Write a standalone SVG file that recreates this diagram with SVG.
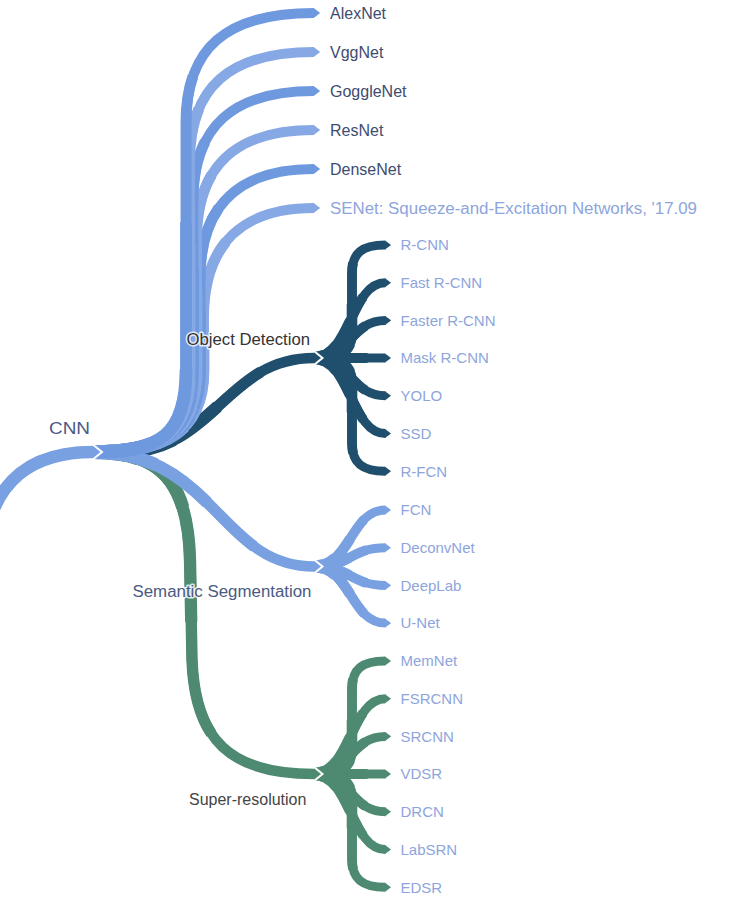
<svg xmlns="http://www.w3.org/2000/svg" width="756" height="902" viewBox="0 0 756 902">
<style>
use{fill:none;stroke-linecap:butt;stroke-linejoin:round}
.d3,.d2,.d1,.d0{marker-end:none !important}
.d3{stroke-dasharray:75 300}.d2{stroke-dasharray:50 300}.d1{stroke-dasharray:25 300}.d0{stroke-dasharray:10 300}
.T .a{stroke-width:10}.T .d3{stroke-width:10.9}.T .d2{stroke-width:11.8}.T .d1{stroke-width:12.7}.T .d0{stroke-width:13.6}
.M .a{stroke-width:10.5}.M .d3{stroke-width:11.4}.M .d2{stroke-width:12.3}.M .d1{stroke-width:13.2}.M .d0{stroke-width:14}
.F .a{stroke-width:9}.F .d3{stroke-width:9.8}.F .d2{stroke-width:10.6}.F .d1{stroke-width:11.4}.F .d0{stroke-width:12.2}
.blueA{stroke:#6f99df;marker-end:url(#tA)}
.blueB{stroke:#86a8e5;marker-end:url(#tB)}
.blue{stroke:#79a1e2;marker-end:url(#tS)}
.teal{stroke:#1f4f6d;marker-end:url(#tT)}
.green{stroke:#4e8a72;marker-end:url(#tG)}
.notch{fill:none;stroke:#fff;stroke-width:2;stroke-linejoin:miter}
text{font-family:"Liberation Sans",Arial,sans-serif}
.t1{font-size:16px;fill:#3e4c70}
.lf{font-size:15px;fill:#8ea5dc}
.lf16{font-size:16px;fill:#8ea5dc}
.cat{font-size:16px;stroke:#fff;stroke-width:3;stroke-opacity:0.8;paint-order:stroke;stroke-linejoin:round}
</style>
<defs>
<marker id="tA" viewBox="-0.05 -0.5 0.7 1" markerWidth="0.7" markerHeight="1" refX="0" refY="0" orient="auto" markerUnits="strokeWidth"><path d="M-0.05,-0.5 L0.62,0 L-0.05,0.5 Z" fill="#6f99df"/></marker>
<marker id="tB" viewBox="-0.05 -0.5 0.7 1" markerWidth="0.7" markerHeight="1" refX="0" refY="0" orient="auto" markerUnits="strokeWidth"><path d="M-0.05,-0.5 L0.62,0 L-0.05,0.5 Z" fill="#86a8e5"/></marker>
<marker id="tS" viewBox="-0.05 -0.5 0.7 1" markerWidth="0.7" markerHeight="1" refX="0" refY="0" orient="auto" markerUnits="strokeWidth"><path d="M-0.05,-0.5 L0.62,0 L-0.05,0.5 Z" fill="#79a1e2"/></marker>
<marker id="tT" viewBox="-0.05 -0.5 0.7 1" markerWidth="0.7" markerHeight="1" refX="0" refY="0" orient="auto" markerUnits="strokeWidth"><path d="M-0.05,-0.5 L0.62,0 L-0.05,0.5 Z" fill="#1f4f6d"/></marker>
<marker id="tG" viewBox="-0.05 -0.5 0.7 1" markerWidth="0.7" markerHeight="1" refX="0" refY="0" orient="auto" markerUnits="strokeWidth"><path d="M-0.05,-0.5 L0.62,0 L-0.05,0.5 Z" fill="#4e8a72"/></marker>
<path id="pOD" pathLength="100" d="M120 452 C215 452 225 358 314 358"/>
<path id="pSR" pathLength="100" d="M93 452 C160 452 188 480 190 560 L192 660 C195 740 230 774 314 774"/>
<path id="pSS" pathLength="100" d="M93 452 C215 452 220 566.5 314 566.5"/>
<path id="p6" pathLength="100" d="M93 452 C160 452 203.5 435 203.5 370 L203.5 318 C203.5 243 243.5 208 314 208"/>
<path id="p5" pathLength="100" d="M93 452 C160 452 200 435 200 370 L200 279 C200 204 240 169 314 169"/>
<path id="p4" pathLength="100" d="M93 452 C160 452 196.5 435 196.5 370 L196.5 240 C196.5 165 236.5 130 314 130"/>
<path id="p3" pathLength="100" d="M93 452 C160 452 193 435 193 370 L193 201 C193 126 233 91 314 91"/>
<path id="p2" pathLength="100" d="M93 452 C160 452 189.5 435 189.5 370 L189.5 162 C189.5 87 229.5 52 314 52"/>
<path id="p1" pathLength="100" d="M93 452 C160 452 186 435 186 370 L186 123 C186 48 226 13 314 13"/>
<path id="od1" pathLength="100" d="M314 358 C340 358 352 352 352 330 L352 273 C352 253 362 245 385.5 245"/>
<path id="od2" pathLength="100" d="M314 358 C351 358 350.5 282.7 385.5 282.7"/>
<path id="od3" pathLength="100" d="M314 358 C351 358 350.5 320.4 385.5 320.4"/>
<path id="od4" pathLength="100" d="M314 358 L385.5 358"/>
<path id="od5" pathLength="100" d="M314 358 C351 358 350.5 395.8 385.5 395.8"/>
<path id="od6" pathLength="100" d="M314 358 C351 358 350.5 433.5 385.5 433.5"/>
<path id="od7" pathLength="100" d="M314 358 C340 358 352 364 352 386 L352 443 C352 463 362 471.2 385.5 471.2"/>
<path id="ss1" pathLength="100" d="M314 566.5 C351 566.5 350.5 510 385.5 510"/>
<path id="ss2" pathLength="100" d="M314 566.5 C351 566.5 350.5 547.7 385.5 547.7"/>
<path id="ss3" pathLength="100" d="M314 566.5 C351 566.5 350.5 585.4 385.5 585.4"/>
<path id="ss4" pathLength="100" d="M314 566.5 C351 566.5 350.5 623.1 385.5 623.1"/>
<path id="sr1" pathLength="100" d="M314 774 C340 774 352 768 352 746 L352 689 C352 669 362 661 385.5 661"/>
<path id="sr2" pathLength="100" d="M314 774 C351 774 350.5 698.7 385.5 698.7"/>
<path id="sr3" pathLength="100" d="M314 774 C351 774 350.5 736.4 385.5 736.4"/>
<path id="sr4" pathLength="100" d="M314 774 L385.5 774"/>
<path id="sr5" pathLength="100" d="M314 774 C351 774 350.5 811.8 385.5 811.8"/>
<path id="sr6" pathLength="100" d="M314 774 C351 774 350.5 849.5 385.5 849.5"/>
<path id="sr7" pathLength="100" d="M314 774 C340 774 352 780 352 802 L352 859 C352 879 362 887.2 385.5 887.2"/>
</defs>
<rect width="756" height="902" fill="#fff"/>
<g id="connectors">
<g class="M teal"><use href="#pOD" class="a"/><use href="#pOD" class="d3"/><use href="#pOD" class="d2"/><use href="#pOD" class="d1"/><use href="#pOD" class="d0"/></g>
<g class="M green"><use href="#pSR" class="a"/><use href="#pSR" class="d3"/><use href="#pSR" class="d2"/><use href="#pSR" class="d1"/><use href="#pSR" class="d0"/></g>
<g class="M blue"><use href="#pSS" class="a"/><use href="#pSS" class="d3"/><use href="#pSS" class="d2"/><use href="#pSS" class="d1"/><use href="#pSS" class="d0"/></g>
<g class="T blueB"><use href="#p6" class="a"/><use href="#p6" class="d3"/><use href="#p6" class="d2"/><use href="#p6" class="d1"/><use href="#p6" class="d0"/></g>
<g class="T blueA"><use href="#p5" class="a"/><use href="#p5" class="d3"/><use href="#p5" class="d2"/><use href="#p5" class="d1"/><use href="#p5" class="d0"/></g>
<g class="T blueB"><use href="#p4" class="a"/><use href="#p4" class="d3"/><use href="#p4" class="d2"/><use href="#p4" class="d1"/><use href="#p4" class="d0"/></g>
<g class="T blueA"><use href="#p3" class="a"/><use href="#p3" class="d3"/><use href="#p3" class="d2"/><use href="#p3" class="d1"/><use href="#p3" class="d0"/></g>
<g class="T blueB"><use href="#p2" class="a"/><use href="#p2" class="d3"/><use href="#p2" class="d2"/><use href="#p2" class="d1"/><use href="#p2" class="d0"/></g>
<g class="T blueA"><use href="#p1" class="a"/><use href="#p1" class="d3"/><use href="#p1" class="d2"/><use href="#p1" class="d1"/><use href="#p1" class="d0"/></g>
<path fill="none" stroke="#79a1e2" stroke-width="12.5" d="M-15 540 C-5 482 30 452 93 452" marker-end="url(#tS)"/>
<g class="F teal">
<use href="#od1" class="a"/><use href="#od1" class="d3"/><use href="#od1" class="d2"/><use href="#od1" class="d1"/><use href="#od1" class="d0"/>
<use href="#od2" class="a"/><use href="#od2" class="d3"/><use href="#od2" class="d2"/><use href="#od2" class="d1"/><use href="#od2" class="d0"/>
<use href="#od3" class="a"/><use href="#od3" class="d3"/><use href="#od3" class="d2"/><use href="#od3" class="d1"/><use href="#od3" class="d0"/>
<use href="#od4" class="a"/><use href="#od4" class="d3"/><use href="#od4" class="d2"/><use href="#od4" class="d1"/><use href="#od4" class="d0"/>
<use href="#od5" class="a"/><use href="#od5" class="d3"/><use href="#od5" class="d2"/><use href="#od5" class="d1"/><use href="#od5" class="d0"/>
<use href="#od6" class="a"/><use href="#od6" class="d3"/><use href="#od6" class="d2"/><use href="#od6" class="d1"/><use href="#od6" class="d0"/>
<use href="#od7" class="a"/><use href="#od7" class="d3"/><use href="#od7" class="d2"/><use href="#od7" class="d1"/><use href="#od7" class="d0"/>
</g>
<g class="F blue">
<use href="#ss1" class="a"/><use href="#ss1" class="d3"/><use href="#ss1" class="d2"/><use href="#ss1" class="d1"/><use href="#ss1" class="d0"/>
<use href="#ss2" class="a"/><use href="#ss2" class="d3"/><use href="#ss2" class="d2"/><use href="#ss2" class="d1"/><use href="#ss2" class="d0"/>
<use href="#ss3" class="a"/><use href="#ss3" class="d3"/><use href="#ss3" class="d2"/><use href="#ss3" class="d1"/><use href="#ss3" class="d0"/>
<use href="#ss4" class="a"/><use href="#ss4" class="d3"/><use href="#ss4" class="d2"/><use href="#ss4" class="d1"/><use href="#ss4" class="d0"/>
</g>
<g class="F green">
<use href="#sr1" class="a"/><use href="#sr1" class="d3"/><use href="#sr1" class="d2"/><use href="#sr1" class="d1"/><use href="#sr1" class="d0"/>
<use href="#sr2" class="a"/><use href="#sr2" class="d3"/><use href="#sr2" class="d2"/><use href="#sr2" class="d1"/><use href="#sr2" class="d0"/>
<use href="#sr3" class="a"/><use href="#sr3" class="d3"/><use href="#sr3" class="d2"/><use href="#sr3" class="d1"/><use href="#sr3" class="d0"/>
<use href="#sr4" class="a"/><use href="#sr4" class="d3"/><use href="#sr4" class="d2"/><use href="#sr4" class="d1"/><use href="#sr4" class="d0"/>
<use href="#sr5" class="a"/><use href="#sr5" class="d3"/><use href="#sr5" class="d2"/><use href="#sr5" class="d1"/><use href="#sr5" class="d0"/>
<use href="#sr6" class="a"/><use href="#sr6" class="d3"/><use href="#sr6" class="d2"/><use href="#sr6" class="d1"/><use href="#sr6" class="d0"/>
<use href="#sr7" class="a"/><use href="#sr7" class="d3"/><use href="#sr7" class="d2"/><use href="#sr7" class="d1"/><use href="#sr7" class="d0"/>
</g>
<polyline class="notch" points="92.5,444.3 102,452 92.5,459.7"/>
<polyline class="notch" points="313,350.3 322.5,358 313,365.7"/>
<polyline class="notch" points="313,558.8 322.5,566.5 313,574.2"/>
<polyline class="notch" points="313,766.3 322.5,774 313,781.7"/>
</g>
<g id="node-cnn"><text x="49" y="434" font-size="17" fill="#4b5a85" textLength="41" lengthAdjust="spacingAndGlyphs">CNN</text></g>
<g id="node-alexnet"><text class="t1" x="330" y="18.5">AlexNet</text></g>
<g id="node-vggnet"><text class="t1" x="330" y="57.5">VggNet</text></g>
<g id="node-gogglenet"><text class="t1" x="330" y="96.5">GoggleNet</text></g>
<g id="node-resnet"><text class="t1" x="330" y="135.5">ResNet</text></g>
<g id="node-densenet"><text class="t1" x="330" y="174.5">DenseNet</text></g>
<g id="node-senet"><text class="lf16" x="330" y="213.5" textLength="367" lengthAdjust="spacingAndGlyphs">SENet: Squeeze-and-Excitation Networks, '17.09</text></g>
<g id="node-object-detection"><text class="cat" x="186.5" y="345" fill="#333" textLength="123.5" lengthAdjust="spacingAndGlyphs">Object Detection</text></g>
<g id="node-rcnn"><text class="lf" x="400.5" y="250.3">R-CNN</text></g>
<g id="node-fast-rcnn"><text class="lf" x="400.5" y="288">Fast R-CNN</text></g>
<g id="node-faster-rcnn"><text class="lf" x="400.5" y="325.7">Faster R-CNN</text></g>
<g id="node-mask-rcnn"><text class="lf" x="400.5" y="363.4">Mask R-CNN</text></g>
<g id="node-yolo"><text class="lf" x="400.5" y="401.1">YOLO</text></g>
<g id="node-ssd"><text class="lf" x="400.5" y="438.8">SSD</text></g>
<g id="node-rfcn"><text class="lf" x="400.5" y="476.5">R-FCN</text></g>
<g id="node-semantic-segmentation"><text class="cat" x="132.5" y="597" fill="#4b5a82" textLength="179" lengthAdjust="spacingAndGlyphs">Semantic Segmentation</text></g>
<g id="node-fcn"><text class="lf" x="400.5" y="515.3">FCN</text></g>
<g id="node-deconvnet"><text class="lf" x="400.5" y="553">DeconvNet</text></g>
<g id="node-deeplab"><text class="lf" x="400.5" y="590.7">DeepLab</text></g>
<g id="node-unet"><text class="lf" x="400.5" y="628.4">U-Net</text></g>
<g id="node-super-resolution"><text class="cat" x="189" y="805" fill="#444">Super-resolution</text></g>
<g id="node-memnet"><text class="lf" x="400.5" y="666.3">MemNet</text></g>
<g id="node-fsrcnn"><text class="lf" x="400.5" y="704">FSRCNN</text></g>
<g id="node-srcnn"><text class="lf" x="400.5" y="741.7">SRCNN</text></g>
<g id="node-vdsr"><text class="lf" x="400.5" y="779.4">VDSR</text></g>
<g id="node-drcn"><text class="lf" x="400.5" y="817.1">DRCN</text></g>
<g id="node-labsrn"><text class="lf" x="400.5" y="854.8">LabSRN</text></g>
<g id="node-edsr"><text class="lf" x="400.5" y="892.5">EDSR</text></g>
</svg>
